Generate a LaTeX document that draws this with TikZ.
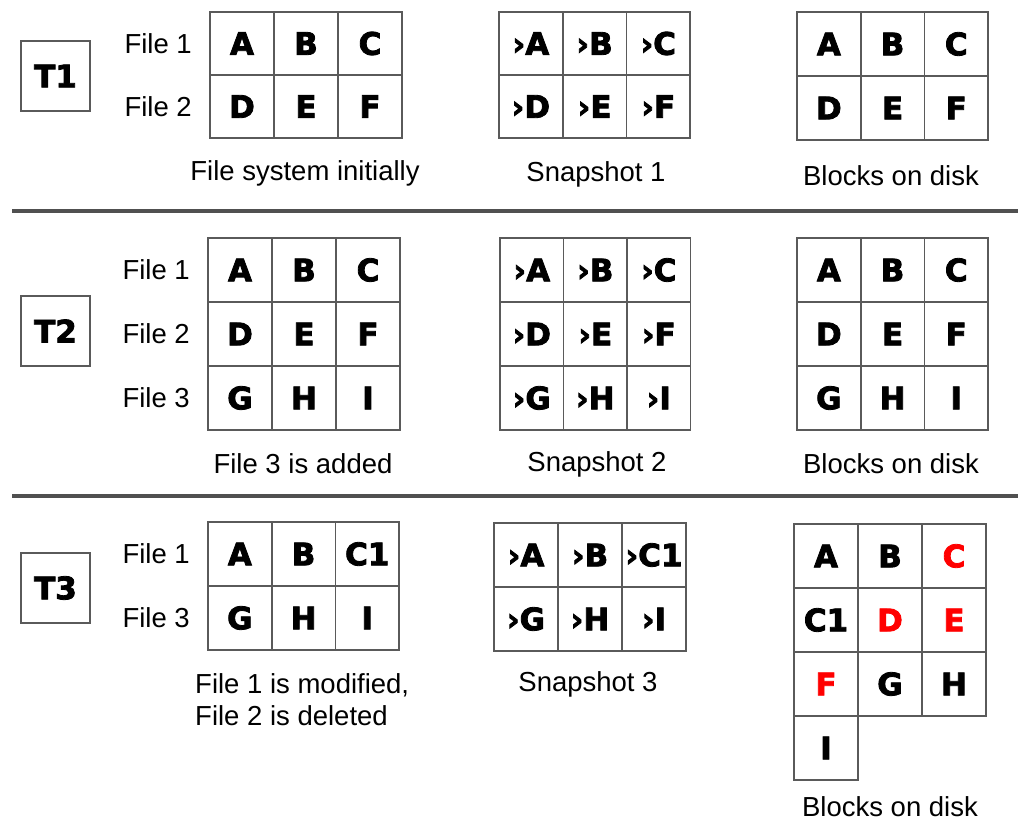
\documentclass[tikz,border=0pt]{standalone}
\usepackage{fontspec}
\setmainfont{Liberation Sans}
\newfontfamily\heavy{DejaVu Sans}[FakeBold=2.6]
\definecolor{gridgray}{HTML}{5A5A5A}
\definecolor{divgray}{HTML}{505050}
\newcommand\mygrid[6]{%
  \foreach \c/\r/\t in {#6} {
    \node[cellbox, minimum width=#4pt, minimum height=#5pt] (#1-\r-\c)
      at ({#2+(\c-0.5)*#4},{#3+(\r-0.5)*#5}) {\t};
  }}
\begin{document}
\begin{tikzpicture}[x=1pt,y=-1pt,
  cellbox/.style={draw=gridgray, line width=1.6pt, inner sep=0pt, fill=white,
    font=\heavy\bfseries\fontsize{31}{34}\selectfont},
  tbox/.style={draw=gridgray, line width=1.6pt, inner sep=0pt,
    minimum width=69pt, minimum height=70pt,
    font=\heavy\bfseries\fontsize{31}{34}\selectfont},
  lbl/.style={inner sep=0pt, font=\fontsize{27.5}{32}\selectfont},
  divider/.style={draw=divgray, line width=4pt}]
\useasboundingbox (0,0) rectangle (1018,821);
% dividers
\coordinate (d1a) at (12,211); \coordinate (d1b) at (1018,211);
\coordinate (d2a) at (12,496); \coordinate (d2b) at (1018,496);
\draw[divider] (d1a) -- (d1b);
\draw[divider] (d2a) -- (d2b);
% time boxes
\node[tbox] (t1) at (55.5,76) {T1};
\node[tbox] (t2) at (55.5,331) {T2};
\node[tbox] (t3) at (55.5,588) {T3};
% ---------- T1 ----------
\node[lbl, anchor=east] (t1f1) at (192,43.5) {File 1};
\node[lbl, anchor=east] (t1f2) at (192,107) {File 2};
\mygrid{ga}{210}{12}{64}{63}{1/1/A,2/1/B,3/1/C,1/2/D,2/2/E,3/2/F}
\mygrid{sa}{499}{12}{63.7}{63}{1/1/›A,2/1/›B,3/1/›C,1/2/›D,2/2/›E,3/2/›F}
\mygrid{ba}{797}{12}{63.7}{64}{1/1/A,2/1/B,3/1/C,1/2/D,2/2/E,3/2/F}
\node[lbl] (cap1a) at (305,173) {File system initially};
\node[lbl] (cap1b) at (596,174) {Snapshot 1};
\node[lbl] (cap1c) at (891,176) {Blocks on disk};
% ---------- T2 ----------
\node[lbl, anchor=east] (t2f1) at (190,270) {File 1};
\node[lbl, anchor=east] (t2f2) at (190,334) {File 2};
\node[lbl, anchor=east] (t2f3) at (190,398) {File 3};
\mygrid{gb}{208}{238}{64}{64}{1/1/A,2/1/B,3/1/C,1/2/D,2/2/E,3/2/F,1/3/G,2/3/H,3/3/I}
\mygrid{sb}{500}{238}{63.5}{64}{1/1/›A,2/1/›B,3/1/›C,1/2/›D,2/2/›E,3/2/›F,1/3/›G,2/3/›H,3/3/›I}
\mygrid{bb}{797}{238}{63.7}{64}{1/1/A,2/1/B,3/1/C,1/2/D,2/2/E,3/2/F,1/3/G,2/3/H,3/3/I}
\node[lbl] (cap2a) at (303,464) {File 3 is added};
\node[lbl] (cap2b) at (597,464) {Snapshot 2};
\node[lbl] (cap2c) at (891,464) {Blocks on disk};
% ---------- T3 ----------
\node[lbl, anchor=east] (t3f1) at (190,554) {File 1};
\node[lbl, anchor=east] (t3f3) at (190,618) {File 3};
\mygrid{gc}{208}{522}{63.7}{64}{1/1/A,2/1/B,3/1/C1,1/2/G,2/2/H,3/2/I}
\mygrid{sc}{494}{523}{64}{64}{1/1/›A,2/1/›B,3/1/›C1,1/2/›G,2/2/›H,3/2/›I}
\mygrid{bc}{794}{524}{64}{64}{1/1/A,2/1/B,3/1/{\textcolor{red}{C}},1/2/C1,2/2/{\textcolor{red}{D}},3/2/{\textcolor{red}{E}},1/3/{\textcolor{red}{F}},2/3/G,3/3/H,1/4/I}
\node[lbl, anchor=west, align=left] (cap3a) at (195,700) {File 1 is modified,\\File 2 is deleted};
\node[lbl] (cap3b) at (588,684) {Snapshot 3};
\node[lbl] (cap3c) at (890,807) {Blocks on disk};
\end{tikzpicture}
\end{document}
